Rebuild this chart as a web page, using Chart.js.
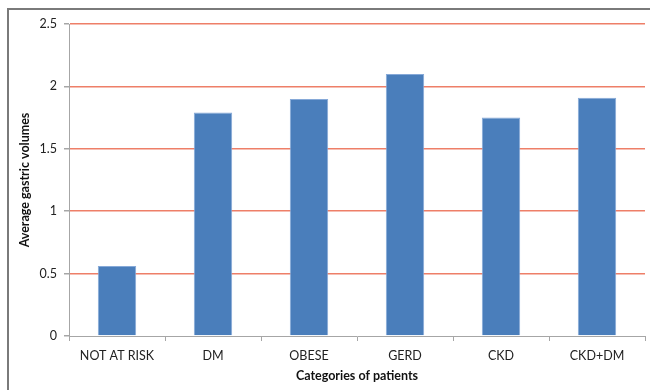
<!DOCTYPE html>
<html>
<head>
<meta charset="utf-8">
<script src="https://cdn.jsdelivr.net/npm/chart.js@4/dist/chart.umd.min.js"></script>
<style>
  html, body { margin: 0; padding: 0; background: #fff; }
  #wrap { width: 650px; height: 390px; }
</style>
</head>
<body>
<div id="wrap"><canvas id="c" width="650" height="390"></canvas></div>
<script>
// Average gastric volume by patient category
const categories = ['NOT AT RISK', 'DM', 'OBESE', 'GERD', 'CKD', 'CKD+DM'];
const gastricVolumes = [0.56, 1.79, 1.9, 2.1, 1.75, 1.91];
const yTicks = [0, 0.5, 1, 1.5, 2, 2.5];

const FONT = 'Lato, "Liberation Sans", sans-serif';
const AXIS_GREY = '#a6a6a6';

// Thin dark frame along the top and left edges
const framePlugin = {
  id: 'frame',
  beforeDraw(chart) {
    const ctx = chart.ctx;
    ctx.save();
    ctx.fillStyle = '#fff';
    ctx.fillRect(0, 0, chart.width, chart.height);
    ctx.strokeStyle = '#7a7a7a';
    ctx.lineWidth = 2;
    ctx.beginPath();
    ctx.moveTo(8, chart.height + 5);
    ctx.lineTo(8, 9);
    ctx.lineTo(chart.width + 5, 9);
    ctx.stroke();
    ctx.restore();
  }
};

new Chart(document.getElementById('c'), {
  type: 'bar',
  data: {
    labels: categories,
    datasets: [{
      data: gastricVolumes,
      backgroundColor: '#4a7ebb',
      borderColor: '#86a9d8',
      borderWidth: 1,
      barPercentage: 0.4,
      categoryPercentage: 1.0
    }]
  },
  options: {
    responsive: false,
    animation: false,
    layout: { padding: { top: 24, right: 5, left: 0, bottom: 0 } },
    plugins: { legend: { display: false }, tooltip: { enabled: false } },
    scales: {
      x: {
        offset: true,
        grid: {
          offset: true,
          drawOnChartArea: false,
          drawTicks: true,
          tickLength: 5,
          color: AXIS_GREY
        },
        border: { display: true, color: AXIS_GREY, width: 1 },
        ticks: {
          color: '#222',
          font: { family: FONT, size: 12.5 },
          padding: 7,
          maxRotation: 0,
          autoSkip: false
        },
        title: {
          display: true,
          text: 'Categories of patients',
          color: '#111',
          font: { family: FONT, size: 12.5, weight: 'bold' },
          padding: { top: 4, bottom: 7 }
        },
        afterFit(scale) { scale.height = 54; }
      },
      y: {
        min: 0,
        max: 2.5,
        afterBuildTicks(scale) { scale.ticks = yTicks.map(v => ({ value: v })); },
        grid: {
          color: ctx => (ctx.tick && ctx.tick.value === 0) ? 'rgba(0,0,0,0)' : '#ee7f68',
          tickColor: AXIS_GREY,
          tickLength: 5,
          lineWidth: 1.5
        },
        border: { display: true, color: AXIS_GREY, width: 1 },
        ticks: {
          color: '#222',
          font: { family: FONT, size: 12.5 },
          padding: 7,
          callback: v => String(v)
        },
        title: {
          display: true,
          text: 'Average gastric volumes',
          color: '#111',
          font: { family: FONT, size: 12.5, weight: 'bold' },
          padding: { top: 17, bottom: 0 }
        },
        afterFit(scale) { scale.width = 69; }
      }
    }
  },
  plugins: [framePlugin]
});
</script>
</body>
</html>
